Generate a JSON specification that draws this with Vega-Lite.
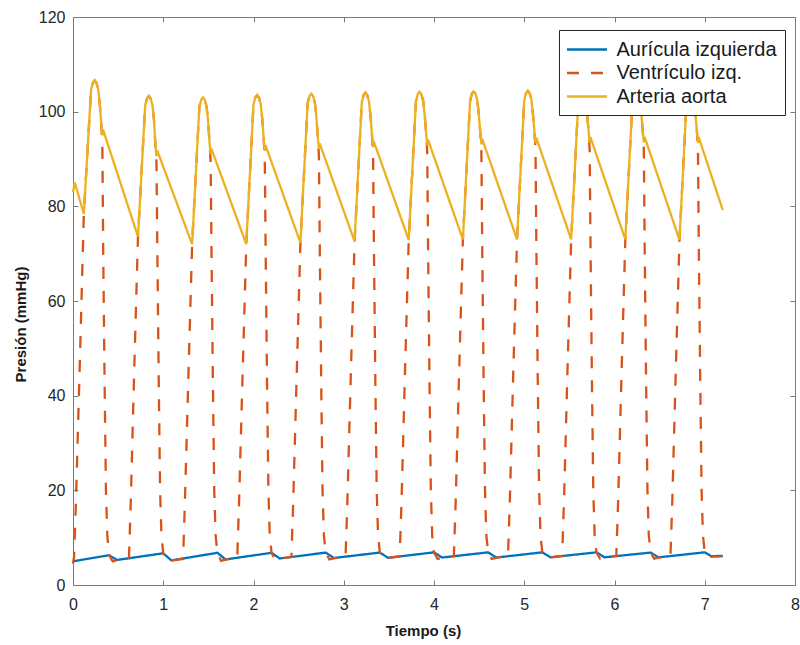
{
"$schema": "https://vega.github.io/schema/vega-lite/v6.json",
"width": 722, "height": 568,
"autosize": {"type": "none"},
"padding": {"left": 73, "top": 17, "right": 5, "bottom": 60},
"background": "white",
"config": {
  "view": {"stroke": "#7a7a7a", "strokeWidth": 1},
  "axis": {"grid": false, "domain": false, "tickColor": "#7a7a7a", "tickSize": -5, "tickWidth": 1,
    "labelFont": "Liberation Sans", "labelFontSize": 16, "labelColor": "#262626",
    "titleFont": "Liberation Sans", "titleFontSize": 15, "titleFontWeight": "bold", "titleColor": "#1a1a1a"}
},
"datasets": {
  "auricula": [{"t":0,"p":5.0},{"t":0.4,"p":6.3},{"t":0.49,"p":5.3},{"t":1.0,"p":6.7},{"t":1.09,"p":5.2},{"t":1.6,"p":6.8},{"t":1.69,"p":5.4},{"t":2.2,"p":6.8},{"t":2.29,"p":5.6},{"t":2.8,"p":6.85},{"t":2.89,"p":5.7},{"t":3.4,"p":6.85},{"t":3.49,"p":5.75},{"t":4.0,"p":6.9},{"t":4.09,"p":5.8},{"t":4.6,"p":6.9},{"t":4.69,"p":5.8},{"t":5.2,"p":6.9},{"t":5.29,"p":5.85},{"t":5.8,"p":6.9},{"t":5.89,"p":5.85},{"t":6.4,"p":6.85},{"t":6.49,"p":5.85},{"t":7.0,"p":6.9},{"t":7.07,"p":6.1},{"t":7.2,"p":6.15}],
  "ventriculo": [{"t":0,"p":4.5},{"t":0.012,"p":6.0},{"t":0.031,"p":16.5},{"t":0.08,"p":50},{"t":0.12,"p":78.4},
    {"t":0.2,"p":104.6},{"t":0.22,"p":106.1},{"t":0.24,"p":106.6},{"t":0.26,"p":106.1},{"t":0.28,"p":104.7},{"t":0.297,"p":101.6},{"t":0.313,"p":97.5},{"t":0.325,"p":93.5},{"t":0.335,"p":70},{"t":0.35,"p":43},{"t":0.365,"p":20},{"t":0.38,"p":10.5},{"t":0.4,"p":6.3},{"t":0.44,"p":5.0},{"t":0.5,"p":5.3},{"t":0.62,"p":5.6},
    {"t":0.64,"p":17.5},{"t":0.68,"p":46.6},{"t":0.72,"p":73.6},{"t":0.8,"p":101.3},{"t":0.82,"p":102.8},{"t":0.84,"p":103.3},{"t":0.86,"p":102.8},{"t":0.88,"p":101.4},{"t":0.897,"p":98.3},{"t":0.913,"p":93.1},{"t":0.925,"p":89.1},{"t":0.935,"p":70},{"t":0.95,"p":43},{"t":0.965,"p":20},{"t":0.98,"p":10.5},{"t":1.0,"p":6.7},{"t":1.04,"p":4.9},{"t":1.1,"p":5.2},{"t":1.22,"p":5.5},
    {"t":1.24,"p":17.5},{"t":1.28,"p":45},{"t":1.32,"p":72.0},{"t":1.4,"p":101.0},{"t":1.42,"p":102.5},{"t":1.44,"p":103.0},{"t":1.46,"p":102.5},{"t":1.48,"p":101.1},{"t":1.497,"p":98.0},{"t":1.513,"p":93.5},{"t":1.525,"p":89.5},{"t":1.535,"p":70},{"t":1.55,"p":43},{"t":1.565,"p":20},{"t":1.58,"p":10.5},{"t":1.6,"p":6.8},{"t":1.64,"p":5.1},{"t":1.7,"p":5.4},{"t":1.82,"p":5.7},
    {"t":1.84,"p":17.5},{"t":1.88,"p":45},{"t":1.92,"p":72.0},{"t":2.0,"p":101.5},{"t":2.02,"p":103.0},{"t":2.04,"p":103.5},{"t":2.06,"p":103.0},{"t":2.08,"p":101.6},{"t":2.097,"p":98.5},{"t":2.113,"p":94.2},{"t":2.125,"p":90.2},{"t":2.135,"p":70},{"t":2.15,"p":43},{"t":2.165,"p":20},{"t":2.18,"p":10.5},{"t":2.2,"p":6.8},{"t":2.24,"p":5.3},{"t":2.3,"p":5.6},{"t":2.42,"p":5.9},
    {"t":2.44,"p":17.5},{"t":2.48,"p":45.3},{"t":2.52,"p":72.3},{"t":2.6,"p":101.8},{"t":2.62,"p":103.3},{"t":2.64,"p":103.8},{"t":2.66,"p":103.3},{"t":2.68,"p":101.9},{"t":2.697,"p":98.8},{"t":2.713,"p":94.6},{"t":2.725,"p":90.6},{"t":2.735,"p":70},{"t":2.75,"p":43},{"t":2.765,"p":20},{"t":2.78,"p":10.5},{"t":2.8,"p":6.85},{"t":2.84,"p":5.4},{"t":2.9,"p":5.7},{"t":3.02,"p":6.0},
    {"t":3.04,"p":17.5},{"t":3.08,"p":45.6},{"t":3.12,"p":72.6},{"t":3.2,"p":102.0},{"t":3.22,"p":103.5},{"t":3.24,"p":104.0},{"t":3.26,"p":103.5},{"t":3.28,"p":102.1},{"t":3.297,"p":99.0},{"t":3.313,"p":95.0},{"t":3.325,"p":91.0},{"t":3.335,"p":70},{"t":3.35,"p":43},{"t":3.365,"p":20},{"t":3.38,"p":10.5},{"t":3.4,"p":6.85},{"t":3.44,"p":5.45},{"t":3.5,"p":5.75},{"t":3.62,"p":6.05},
    {"t":3.64,"p":17.5},{"t":3.68,"p":45.9},{"t":3.72,"p":72.9},{"t":3.8,"p":102.2},{"t":3.82,"p":103.7},{"t":3.84,"p":104.2},{"t":3.86,"p":103.7},{"t":3.88,"p":102.3},{"t":3.897,"p":99.2},{"t":3.913,"p":95.4},{"t":3.925,"p":91.4},{"t":3.935,"p":70},{"t":3.95,"p":43},{"t":3.965,"p":20},{"t":3.98,"p":10.5},{"t":4.0,"p":6.9},{"t":4.04,"p":5.5},{"t":4.1,"p":5.8},{"t":4.22,"p":6.1},
    {"t":4.24,"p":17.5},{"t":4.28,"p":46},{"t":4.32,"p":73.0},{"t":4.4,"p":102.3},{"t":4.42,"p":103.8},{"t":4.44,"p":104.3},{"t":4.46,"p":103.8},{"t":4.48,"p":102.4},{"t":4.497,"p":99.3},{"t":4.513,"p":95.6},{"t":4.525,"p":91.6},{"t":4.535,"p":70},{"t":4.55,"p":43},{"t":4.565,"p":20},{"t":4.58,"p":10.5},{"t":4.6,"p":6.9},{"t":4.64,"p":5.5},{"t":4.7,"p":5.8},{"t":4.82,"p":6.1},
    {"t":4.84,"p":17.5},{"t":4.88,"p":46},{"t":4.92,"p":73.0},{"t":5.0,"p":102.4},{"t":5.02,"p":103.9},{"t":5.04,"p":104.4},{"t":5.06,"p":103.9},{"t":5.08,"p":102.5},{"t":5.097,"p":99.4},{"t":5.113,"p":95.8},{"t":5.125,"p":91.8},{"t":5.135,"p":70},{"t":5.15,"p":43},{"t":5.165,"p":20},{"t":5.18,"p":10.5},{"t":5.2,"p":6.9},{"t":5.24,"p":5.55},{"t":5.3,"p":5.85},{"t":5.42,"p":6.15},
    {"t":5.44,"p":17.5},{"t":5.48,"p":46},{"t":5.52,"p":73.0},{"t":5.6,"p":102.4},{"t":5.62,"p":103.9},{"t":5.64,"p":104.4},{"t":5.66,"p":103.9},{"t":5.68,"p":102.5},{"t":5.697,"p":99.4},{"t":5.713,"p":95.9},{"t":5.725,"p":91.9},{"t":5.735,"p":70},{"t":5.75,"p":43},{"t":5.765,"p":20},{"t":5.78,"p":10.5},{"t":5.8,"p":6.9},{"t":5.84,"p":5.55},{"t":5.9,"p":5.85},{"t":6.02,"p":6.15},
    {"t":6.04,"p":17.5},{"t":6.08,"p":46},{"t":6.12,"p":73.0},{"t":6.2,"p":102.5},{"t":6.22,"p":104.0},{"t":6.24,"p":104.5},{"t":6.26,"p":104.0},{"t":6.28,"p":102.6},{"t":6.297,"p":99.5},{"t":6.313,"p":96.0},{"t":6.325,"p":92.0},{"t":6.335,"p":70},{"t":6.35,"p":43},{"t":6.365,"p":20},{"t":6.38,"p":10.5},{"t":6.4,"p":6.85},{"t":6.44,"p":5.55},{"t":6.5,"p":5.85},{"t":6.62,"p":6.15},
    {"t":6.64,"p":17.5},{"t":6.68,"p":45.9},{"t":6.72,"p":72.9},{"t":6.8,"p":102.5},{"t":6.82,"p":104.0},{"t":6.84,"p":104.5},{"t":6.86,"p":104.0},{"t":6.88,"p":102.6},{"t":6.897,"p":99.5},{"t":6.913,"p":95.9},{"t":6.925,"p":91.9},{"t":6.935,"p":70},{"t":6.95,"p":43},{"t":6.965,"p":20},{"t":6.98,"p":10.5},{"t":7.0,"p":6.9},{"t":7.04,"p":5.8},{"t":7.08,"p":6.0},{"t":7.2,"p":6.05}],
  "aorta": [{"t":0,"p":83.0},{"t":0.02,"p":85.0},
    {"t":0.12,"p":78.4},{"t":0.2,"p":104.6},{"t":0.22,"p":106.1},{"t":0.24,"p":106.6},{"t":0.26,"p":106.1},{"t":0.28,"p":104.7},{"t":0.297,"p":101.6},{"t":0.313,"p":97.5},{"t":0.325,"p":95.0},{"t":0.333,"p":96.2},
    {"t":0.72,"p":73.6},{"t":0.8,"p":101.3},{"t":0.82,"p":102.8},{"t":0.84,"p":103.3},{"t":0.86,"p":102.8},{"t":0.88,"p":101.4},{"t":0.897,"p":98.3},{"t":0.913,"p":93.1},{"t":0.925,"p":90.6},{"t":0.933,"p":91.8},
    {"t":1.32,"p":72.0},{"t":1.4,"p":101.0},{"t":1.42,"p":102.5},{"t":1.44,"p":103.0},{"t":1.46,"p":102.5},{"t":1.48,"p":101.1},{"t":1.497,"p":98.0},{"t":1.513,"p":93.5},{"t":1.525,"p":91.0},{"t":1.533,"p":92.2},
    {"t":1.92,"p":72.0},{"t":2.0,"p":101.5},{"t":2.02,"p":103.0},{"t":2.04,"p":103.5},{"t":2.06,"p":103.0},{"t":2.08,"p":101.6},{"t":2.097,"p":98.5},{"t":2.113,"p":94.2},{"t":2.125,"p":91.7},{"t":2.133,"p":92.9},
    {"t":2.52,"p":72.3},{"t":2.6,"p":101.8},{"t":2.62,"p":103.3},{"t":2.64,"p":103.8},{"t":2.66,"p":103.3},{"t":2.68,"p":101.9},{"t":2.697,"p":98.8},{"t":2.713,"p":94.6},{"t":2.725,"p":92.1},{"t":2.733,"p":93.3},
    {"t":3.12,"p":72.6},{"t":3.2,"p":102.0},{"t":3.22,"p":103.5},{"t":3.24,"p":104.0},{"t":3.26,"p":103.5},{"t":3.28,"p":102.1},{"t":3.297,"p":99.0},{"t":3.313,"p":95.0},{"t":3.325,"p":92.5},{"t":3.333,"p":93.7},
    {"t":3.72,"p":72.9},{"t":3.8,"p":102.2},{"t":3.82,"p":103.7},{"t":3.84,"p":104.2},{"t":3.86,"p":103.7},{"t":3.88,"p":102.3},{"t":3.897,"p":99.2},{"t":3.913,"p":95.4},{"t":3.925,"p":92.9},{"t":3.933,"p":94.1},
    {"t":4.32,"p":73.0},{"t":4.4,"p":102.3},{"t":4.42,"p":103.8},{"t":4.44,"p":104.3},{"t":4.46,"p":103.8},{"t":4.48,"p":102.4},{"t":4.497,"p":99.3},{"t":4.513,"p":95.6},{"t":4.525,"p":93.1},{"t":4.533,"p":94.3},
    {"t":4.92,"p":73.0},{"t":5.0,"p":102.4},{"t":5.02,"p":103.9},{"t":5.04,"p":104.4},{"t":5.06,"p":103.9},{"t":5.08,"p":102.5},{"t":5.097,"p":99.4},{"t":5.113,"p":95.8},{"t":5.125,"p":93.3},{"t":5.133,"p":94.5},
    {"t":5.52,"p":73.0},{"t":5.6,"p":102.4},{"t":5.62,"p":103.9},{"t":5.64,"p":104.4},{"t":5.66,"p":103.9},{"t":5.68,"p":102.5},{"t":5.697,"p":99.4},{"t":5.713,"p":95.9},{"t":5.725,"p":93.4},{"t":5.733,"p":94.6},
    {"t":6.12,"p":73.0},{"t":6.2,"p":102.5},{"t":6.22,"p":104.0},{"t":6.24,"p":104.5},{"t":6.26,"p":104.0},{"t":6.28,"p":102.6},{"t":6.297,"p":99.5},{"t":6.313,"p":96.0},{"t":6.325,"p":93.5},{"t":6.333,"p":94.7},
    {"t":6.72,"p":72.9},{"t":6.8,"p":102.5},{"t":6.82,"p":104.0},{"t":6.84,"p":104.5},{"t":6.86,"p":104.0},{"t":6.88,"p":102.6},{"t":6.897,"p":99.5},{"t":6.913,"p":95.9},{"t":6.925,"p":93.4},{"t":6.933,"p":94.6},
    {"t":7.2,"p":79.2}]
},
"layer": [
  {"data": {"name": "auricula"},
   "mark": {"type": "line", "strokeWidth": 2.3},
   "encoding": {
     "x": {"field": "t", "type": "quantitative", "scale": {"domain": [0, 8], "nice": false},
           "axis": {"orient": "bottom", "values": [0,1,2,3,4,5,6,7,8], "title": "Tiempo (s)", "labelPadding": 16, "titlePadding": 11, "titleX": 350, "labelFlush": false}},
     "y": {"field": "p", "type": "quantitative", "scale": {"domain": [0, 120], "nice": false},
           "axis": {"orient": "left", "values": [0,20,40,60,80,100,120], "title": "Presión (mmHg)", "labelPadding": 13, "titlePadding": 10, "titleY": 307, "labelFlush": false}},
     "color": {"datum": "Aurícula izquierda", "type": "nominal",
               "scale": {"domain": ["Aurícula izquierda", "Ventrículo izq.", "Arteria aorta"], "range": ["#0072BD", "#D95319", "#EDB120"]},
               "legend": {"orient": "none", "legendX": 486, "legendY": 13, "title": null, "fillColor": "white", "strokeColor": "#262626", "padding": 8,
                          "labelFont": "Liberation Sans", "labelFontSize": 20, "labelColor": "#1a1a1a", "labelLimit": 400,
                          "symbolType": "M-2,0L2,0", "symbolSize": 400, "symbolOffset": 8.5,
                          "symbolStrokeWidth": 2.3, "rowPadding": 1.5, "labelOffset": 18}},
     "strokeDash": {"datum": "Aurícula izquierda", "type": "nominal",
               "scale": {"domain": ["Aurícula izquierda", "Ventrículo izq.", "Arteria aorta"], "range": [[1,0],[12,12],[1,0]]},
               "legend": {"orient": "none", "legendX": 486, "legendY": 13, "title": null, "fillColor": "white", "strokeColor": "#262626", "padding": 8,
                          "labelFont": "Liberation Sans", "labelFontSize": 20, "labelColor": "#1a1a1a", "labelLimit": 400,
                          "symbolType": "M-2,0L2,0", "symbolSize": 400, "symbolOffset": 8.5,
                          "symbolStrokeWidth": 2.3, "rowPadding": 1.5, "labelOffset": 18}}
   }},
  {"data": {"name": "ventriculo"},
   "mark": {"type": "line", "strokeWidth": 2.3},
   "encoding": {
     "x": {"field": "t", "type": "quantitative", "axis": null},
     "y": {"field": "p", "type": "quantitative", "axis": null},
     "color": {"datum": "Ventrículo izq.", "type": "nominal"},
     "strokeDash": {"datum": "Ventrículo izq.", "type": "nominal"}
   }},
  {"data": {"name": "aorta"},
   "mark": {"type": "line", "strokeWidth": 2.3},
   "encoding": {
     "x": {"field": "t", "type": "quantitative",
           "axis": {"orient": "top", "values": [0,1,2,3,4,5,6,7,8], "labels": false, "title": null}},
     "y": {"field": "p", "type": "quantitative",
           "axis": {"orient": "right", "values": [0,20,40,60,80,100,120], "labels": false, "title": null}},
     "color": {"datum": "Arteria aorta", "type": "nominal"},
     "strokeDash": {"datum": "Arteria aorta", "type": "nominal"}
   }}
],
"resolve": {"axis": {"x": "independent", "y": "independent"}}
}
